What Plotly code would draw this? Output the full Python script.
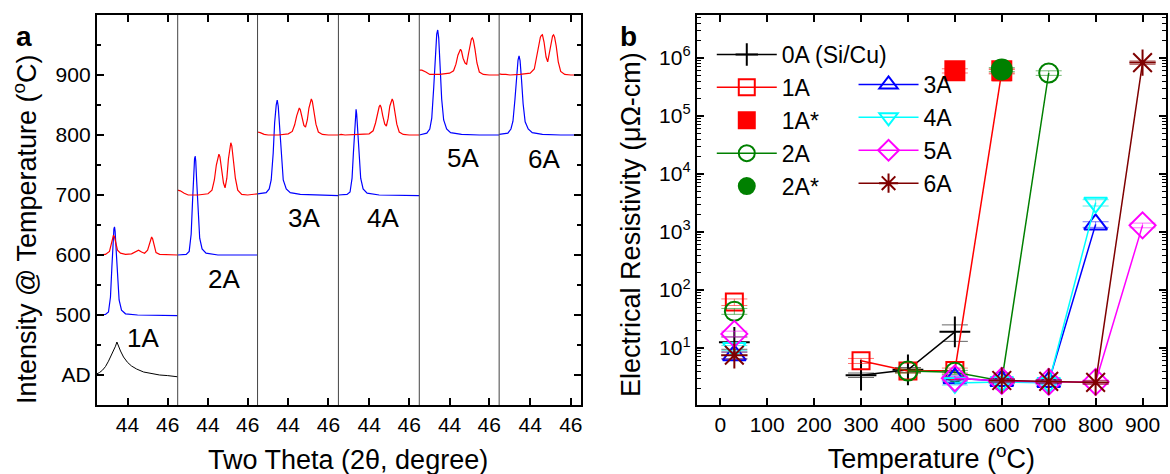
import plotly.graph_objects as go

W, H = 1170, 474
FONT = "Liberation Sans, Arial, sans-serif"

# ---------------- Panel a data (2theta in degree, intensity + temperature offset) ----------------
panel_labels = ["1A", "2A", "3A", "4A", "5A", "6A"]
label_y = [461, 560, 662, 662, 762, 760]
label_tt = [44.75, 44.8, 44.8, 44.7, 44.7, 44.7]

AD_tt = [42.47, 42.6, 42.75, 42.9, 43.05, 43.2, 43.3, 43.4, 43.47, 43.55, 43.65, 43.8, 44.0, 44.2, 44.45,
         44.8, 45.2, 45.6, 46.0, 46.5]
AD_I = [402, 404, 408, 414, 423, 433, 440, 448, 455, 447, 440, 430, 421, 415, 410, 405, 402, 400, 399, 397]

blue_tt = [
    [42.47, 42.9, 43.05, 43.15, 43.22, 43.28, 43.32, 43.35, 43.38, 43.43, 43.5, 43.58, 43.7, 43.9, 44.5, 45.5, 46.5],
    [42.47, 42.9, 43.05, 43.15, 43.22, 43.28, 43.32, 43.35, 43.38, 43.43, 43.5, 43.58, 43.7, 43.9, 44.5, 45.5, 46.5],
    [42.47, 42.9, 43.05, 43.15, 43.25, 43.32, 43.4, 43.45, 43.5, 43.57, 43.65, 43.75, 43.9, 44.1, 44.6, 45.5, 46.5],
    [42.47, 42.9, 43.05, 43.15, 43.22, 43.28, 43.32, 43.35, 43.38, 43.43, 43.5, 43.58, 43.7, 43.9, 44.5, 45.5, 46.5],
    [42.47, 42.85, 43.0, 43.1, 43.2, 43.28, 43.35, 43.4, 43.45, 43.52, 43.6, 43.7, 43.85, 44.05, 44.6, 45.5, 46.5],
    [42.47, 42.9, 43.05, 43.15, 43.25, 43.32, 43.4, 43.45, 43.5, 43.57, 43.65, 43.75, 43.9, 44.1, 44.6, 45.5, 46.5],
]
blue_I = [
    [500, 501, 505, 530, 580, 625, 643, 647, 640, 610, 560, 525, 508, 502, 500, 499, 499],
    [600, 601, 606, 635, 690, 740, 760, 765, 757, 722, 665, 628, 610, 603, 600, 600, 600],
    [702, 704, 710, 725, 770, 820, 850, 858, 848, 810, 760, 725, 710, 704, 701, 700, 699],
    [700, 701, 705, 728, 772, 815, 838, 843, 835, 808, 762, 728, 710, 703, 700, 699, 699],
    [800, 803, 810, 828, 880, 935, 968, 975, 962, 915, 860, 825, 810, 804, 801, 800, 800],
    [801, 803, 810, 823, 860, 900, 925, 932, 924, 893, 852, 822, 810, 804, 801, 800, 800],
]

red_tt_1A = [42.47, 42.9, 43.1, 43.18, 43.25, 43.3, 43.35, 43.42, 43.5, 43.65, 43.9, 44.2, 44.4, 44.55, 44.7,
             44.85, 45.0, 45.08, 45.15, 45.2, 45.25, 45.32, 45.42, 45.6, 46.0, 46.5]
red_tt_2p = [42.47, 42.6, 42.8, 43.0, 43.5, 44.0, 44.2, 44.32, 44.42, 44.5, 44.55, 44.6, 44.68, 44.78, 44.86,
             44.95, 45.03, 45.1, 45.15, 45.2, 45.28, 45.38, 45.5, 45.7, 46.0, 46.5]
red_tt = [red_tt_1A, red_tt_2p, red_tt_2p, red_tt_2p, red_tt_2p, red_tt_2p]
red_I = [
    [600, 601, 606, 618, 630, 633, 630, 618, 608, 603, 601, 602, 606, 608, 605, 603, 608, 618, 628, 630, 627,
     615, 604, 601, 600, 600],
    [708, 707, 703, 700, 700, 702, 708, 725, 750, 764, 768, 764, 745, 720, 712, 728, 760, 782, 787, 782, 760,
     728, 708, 701, 700, 702],
    [805, 804, 801, 800, 800, 802, 806, 817, 832, 842, 845, 842, 830, 816, 813, 825, 845, 857, 860, 856, 840,
     818, 805, 801, 800, 800],
    [800, 801, 800, 800, 801, 802, 807, 820, 838, 847, 850, 846, 832, 818, 815, 828, 848, 858, 860, 856, 840,
     818, 805, 801, 800, 800],
    [908, 908, 905, 901, 901, 903, 907, 918, 933, 941, 943, 940, 928, 920, 918, 935, 952, 960, 962, 958, 943,
     920, 905, 901, 900, 900],
    [902, 901, 901, 900, 901, 903, 910, 930, 952, 963, 966, 967, 955, 930, 922, 940, 958, 965, 967, 963, 948,
     922, 906, 901, 900, 900],
]

a_yticks = [400, 500, 600, 700, 800, 900]
a_yticktext = ["AD", "500", "600", "700", "800", "900"]
a_yminor = [450, 550, 650, 750, 850, 950]
a_xticks = [44, 46]

# ---------------- Panel b data (temperature in C, resistivity in micro-ohm cm) ----------------
names = ["0A (Si/Cu)", "1A", "1A*", "2A", "2A*", "3A", "4A", "5A", "6A"]
T = {
    "0A (Si/Cu)": [30, None, 300, 400, 500],
    "1A": [30, None, 300, 400, 500, 600],
    "1A*": [500, 600],
    "2A": [30, None, 400, 500, 600, 700],
    "2A*": [600],
    "3A": [30, None, 500, 600, 700, 800],
    "4A": [30, None, 500, 600, 700, 800],
    "5A": [30, None, 500, 600, 700, 800, 900],
    "6A": [30, None, 600, 700, 800, 900],
}
R = {
    "0A (Si/Cu)": [12.5, None, 3.4, 4.2, 19],
    "1A": [62, None, 6.0, 4.0, 4.1, 5.8e5],
    "1A*": [6.0e5, 6.0e5],
    "2A": [43, None, 4.0, 3.8, 2.7, 5.5e5],
    "2A*": [6.3e5],
    "3A": [7.5, None, 3.0, 2.7, 2.6, 1.35e3],
    "4A": [10, None, 2.5, 2.6, 2.5, 3.2e3],
    "5A": [17.5, None, 3.0, 2.7, 2.6, 2.6, 1.3e3],
    "6A": [7.5, None, 2.75, 2.65, 2.55, 8.3e5],
}
R_err = {
    "0A (Si/Cu)": [3, None, 0.3, 0.4, 6],
    "1A": [8, None, 0.6, 0.3, 0.4, 5e4],
    "1A*": [5e4, 5e4],
    "2A": [5, None, 0.3, 0.3, 0.2, 5e4],
    "2A*": [5e4],
    "3A": [1, None, 0.3, 0.2, 0.2, 150],
    "4A": [1, None, 0.2, 0.2, 0.2, 400],
    "5A": [2, None, 0.2, 0.2, 0.2, 0.2, 120],
    "6A": [1, None, 0.2, 0.2, 0.2, 6e4],
}

b_xticks = [0, 100, 200, 300, 400, 500, 600, 700, 800, 900]
b_yticks = [1e1, 1e2, 1e3, 1e4, 1e5, 1e6]
b_yticktext = ["10<sup>1</sup>", "10<sup>2</sup>", "10<sup>3</sup>", "10<sup>4</sup>", "10<sup>5</sup>", "10<sup>6</sup>"]

# ---------------- Styles ----------------
style = {
    "0A (Si/Cu)": dict(color="black", err="rgba(0,0,0,0.6)", symbol="cross-thin-open", mode="lines+markers", size=22, legend="legend"),
    "1A": dict(color="#ff0000", err="rgba(255,0,0,0.55)", symbol="square-open", mode="lines+markers", size=17, legend="legend"),
    "1A*": dict(color="#ff0000", err="rgba(255,0,0,0.55)", symbol="square", mode="markers", size=19, legend="legend"),
    "2A": dict(color="#008000", err="rgba(0,128,0,0.55)", symbol="circle-open", mode="lines+markers", size=19, legend="legend"),
    "2A*": dict(color="#008000", err="rgba(0,128,0,0.55)", symbol="circle", mode="markers", size=20, legend="legend"),
    "3A": dict(color="#0000ff", err="rgba(0,0,255,0.55)", symbol="triangle-up-open", mode="lines+markers", size=20, legend="legend2"),
    "4A": dict(color="#00ffff", err="rgba(0,220,220,0.6)", symbol="triangle-down-open", mode="lines+markers", size=20, legend="legend2"),
    "5A": dict(color="#ff00ff", err="rgba(255,0,255,0.55)", symbol="diamond-open", mode="lines+markers", size=20, legend="legend2"),
    "6A": dict(color="#7f0000", err="rgba(127,0,0,0.55)", symbol="asterisk-open", mode="lines+markers", size=22, legend="legend2"),
}

# ---------------- Build figure ----------------
fig = go.Figure()

bounds = [97, 178, 258, 339, 420, 500, 582]
ydom = [1 - 405 / H, 1 - 15 / H]
axis_font = dict(family=FONT, size=21, color="black")
title_font = dict(family=FONT, size=27, color="black")

for i in range(6):
    xa = "x" if i == 0 else f"x{i + 1}"
    ya = "y3" if i == 5 else "y"
    if i == 0:
        fig.add_trace(go.Scatter(x=AD_tt, y=AD_I, mode="lines", line=dict(color="black", width=1),
                                 xaxis=xa, yaxis=ya, showlegend=False, hoverinfo="skip"))
    fig.add_trace(go.Scatter(x=blue_tt[i], y=blue_I[i], mode="lines", line=dict(color="#0000ff", width=1.2),
                             xaxis=xa, yaxis=ya, showlegend=False, hoverinfo="skip"))
    fig.add_trace(go.Scatter(x=red_tt[i], y=red_I[i], mode="lines", line=dict(color="#ff0000", width=1.2),
                             xaxis=xa, yaxis=ya, showlegend=False, hoverinfo="skip"))
    fig.add_annotation(x=label_tt[i], y=label_y[i], xref=xa, yref=ya, text=panel_labels[i],
                       showarrow=False, xanchor="center", font=dict(family=FONT, size=26, color="black"))
    key = "xaxis" if i == 0 else f"xaxis{i + 1}"
    fig.layout[key] = dict(
        domain=[bounds[i] / W, bounds[i + 1] / W], range=[42.47, 46.5], anchor=ya,
        tickvals=a_xticks, ticks="inside", ticklen=7, tickwidth=2, tickcolor="black",
        showline=True, linecolor="black", linewidth=2, mirror="ticks", ticklabelstandoff=0,
        showgrid=False, zeroline=False, tickfont=axis_font,
    )

yax_common = dict(range=[350, 1000], domain=ydom, ticks="inside", ticklen=7, tickwidth=2, tickcolor="black",
                  showline=True, linecolor="black", linewidth=2, showgrid=False, zeroline=False,
                  tickvals=a_yticks,
                  minor=dict(tickvals=a_yminor, ticks="inside", ticklen=4, tickwidth=2, tickcolor="black"))
fig.layout.yaxis = dict(yax_common, anchor="x", side="left", ticktext=a_yticktext, tickfont=axis_font,
                        ticksuffix="\u00a0")
fig.layout.yaxis3 = dict(yax_common, anchor="x6", side="right", matches="y", showticklabels=False)

# panel dividers
for b in bounds[1:-1]:
    fig.add_shape(type="line", xref="paper", yref="paper", x0=b / W, x1=b / W, y0=ydom[0], y1=ydom[1],
                  line=dict(color="#444444", width=1))

# axis titles of panel a and the y title of panel b as positioned annotations
fig.add_annotation(xref="paper", yref="paper", x=349 / W, y=1 - 460 / H,
                   text="Two Theta (2\u03b8, degree)", showarrow=False, xanchor="center", yanchor="middle",
                   font=title_font)
fig.add_annotation(xref="paper", yref="paper", x=25 / W, y=1 - 229 / H, textangle=-90,
                   text="Intensity @ Temperature (<sup>o</sup>C)", showarrow=False, xanchor="center",
                   yanchor="middle", font=title_font)
fig.add_annotation(xref="paper", yref="paper", x=632 / W, y=1 - 224 / H, textangle=-90,
                   text="Electrical Resistivity (\u03bc\u03a9-cm)", showarrow=False, xanchor="center",
                   yanchor="middle", font=title_font)

# panel b
for name in names:
    s = style[name]
    fig.add_trace(go.Scatter(
        x=T[name], y=R[name], mode=s["mode"], name=name, xaxis="x7", yaxis="y2", legend=s["legend"],
        legendgroup=name, connectgaps=False,
        line=dict(color=s["color"], width=1.5),
        marker=dict(symbol=s["symbol"], size=s["size"], color=s["color"], line=dict(color=s["color"], width=2)),
        error_y=dict(type="data", array=R_err[name], visible=True, color=s["err"], thickness=1, width=13),
    ))

fig.layout.xaxis7 = dict(domain=[698 / W, 1168 / W], range=[-50, 950], anchor="y2",
                         tickvals=b_xticks, ticks="inside", ticklen=7, tickwidth=2, tickcolor="black",
                         showline=True, linecolor="black", linewidth=2, mirror="ticks", ticklabelstandoff=0,
                         showgrid=False, zeroline=False, tickfont=axis_font,
                         title=dict(text="Temperature (<sup>o</sup>C)", standoff=15, font=title_font))
minor_log = [m * 10 ** k for k in range(0, 7) for m in range(2, 10)]
fig.layout.yaxis2 = dict(domain=ydom, type="log", range=[0.017, 6.74], anchor="x7",
                         tickvals=b_yticks, ticktext=b_yticktext, ticks="inside", ticklen=7, tickwidth=2,
                         tickcolor="black", showline=True, linecolor="black", linewidth=2, mirror="ticks",
                         showgrid=False, zeroline=False, tickfont=axis_font,
                         minor=dict(tickvals=minor_log, ticks="inside", ticklen=4, tickwidth=1,
                                    tickcolor="black"))

leg_common = dict(bgcolor="rgba(0,0,0,0)", borderwidth=0, font=dict(family=FONT, size=23, color="black"),
                  itemwidth=60, tracegroupgap=0, xanchor="left", yanchor="top", itemsizing="trace")
fig.layout.legend = dict(leg_common, x=713 / W, y=1 - 33 / H)
fig.layout.legend2 = dict(leg_common, x=855 / W, y=1 - 63 / H)

fig.add_annotation(xref="paper", yref="paper", x=14 / W, y=1 - 19 / H, text="<b>a</b>", showarrow=False,
                   xanchor="left", font=dict(family=FONT, size=28, color="black"))
fig.add_annotation(xref="paper", yref="paper", x=619 / W, y=1 - 19 / H, text="<b>b</b>", showarrow=False,
                   xanchor="left", font=dict(family=FONT, size=28, color="black"))

fig.update_layout(width=W, height=H, margin=dict(l=0, r=0, t=0, b=0), paper_bgcolor="white",
                  plot_bgcolor="white", font=dict(family=FONT, color="black"), showlegend=True)

fig.write_html("out.html", config={"displayModeBar": False},
               post_script="document.body.style.margin='0px';")
